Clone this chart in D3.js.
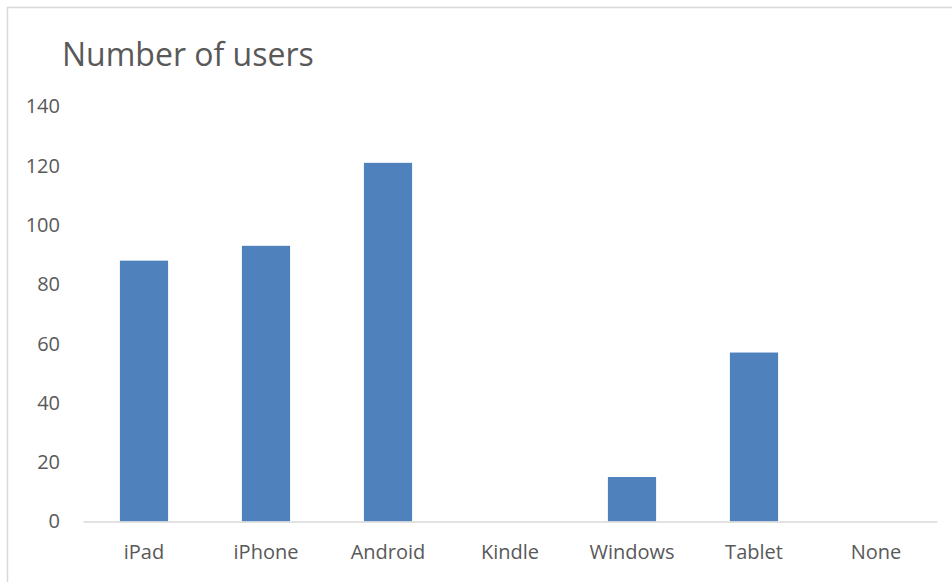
<!DOCTYPE html>
<html>
<head>
<meta charset="utf-8">
<script src="https://cdn.jsdelivr.net/npm/d3@7"></script>
<style>
  body { margin: 0; background: #fff; }
  svg text { font-family: "Open Sans", sans-serif; fill: #595959; }
</style>
</head>
<body>
<div id="chart"></div>
<script>
// Données
const categories = ["iPad", "iPhone", "Android", "Kindle", "Windows", "Tablet", "None"];
const users = [88, 93, 121, 0, 15, 57, 0];
const yTicks = [0, 20, 40, 60, 80, 100, 120, 140];

const width = 952, height = 582;

const svg = d3.select("#chart")
    .append("svg")
    .attr("width", width)
    .attr("height", height);

// Cadre gris clair (coupé à droite et en bas comme sur l'original)
svg.append("rect")
    .attr("x", 7.5)
    .attr("y", 7.5)
    .attr("width", width + 20)
    .attr("height", height + 20)
    .attr("fill", "none")
    .attr("stroke", "#d9d9d9")
    .attr("stroke-width", 1.5);

// Titre
svg.append("text")
    .attr("x", 62)
    .attr("y", 66)
    .attr("font-size", 32)
    .text("Number of users");

const x = d3.scaleBand()
    .domain(categories)
    .range([83, 937])
    .padding(0);

const y = d3.scaleLinear()
    .domain([0, 140])
    .range([521.5, 106.5]);

const barWidth = x.bandwidth() * 0.395;

// Barres
svg.selectAll(".bar")
    .data(categories.map((c, i) => ({ cat: c, value: users[i] })))
    .enter()
    .append("rect")
    .attr("class", "bar")
    .attr("x", d => x(d.cat) + (x.bandwidth() - barWidth) / 2)
    .attr("y", d => y(d.value))
    .attr("width", barWidth)
    .attr("height", d => y(0) - y(d.value))
    .attr("fill", "#4f81bd");

// Axe Y (étiquettes seulement)
const yAxis = svg.append("g")
    .attr("transform", "translate(60,0)")
    .call(d3.axisLeft(y).tickValues(yTicks).tickSize(0).tickPadding(0));
yAxis.select(".domain").remove();
yAxis.selectAll("text")
    .attr("font-size", 20)
    .attr("font-family", "Open Sans, sans-serif")
    .attr("fill", "#595959");

// Axe X
const xAxis = svg.append("g")
    .attr("transform", `translate(0,${y(0)})`)
    .call(d3.axisBottom(x).tickSize(0).tickPadding(23));
xAxis.select(".domain")
    .attr("stroke", "#d9d9d9")
    .attr("stroke-width", 1.5);
xAxis.selectAll("text")
    .attr("font-size", 20)
    .attr("font-family", "Open Sans, sans-serif")
    .attr("fill", "#595959");
</script>
</body>
</html>
